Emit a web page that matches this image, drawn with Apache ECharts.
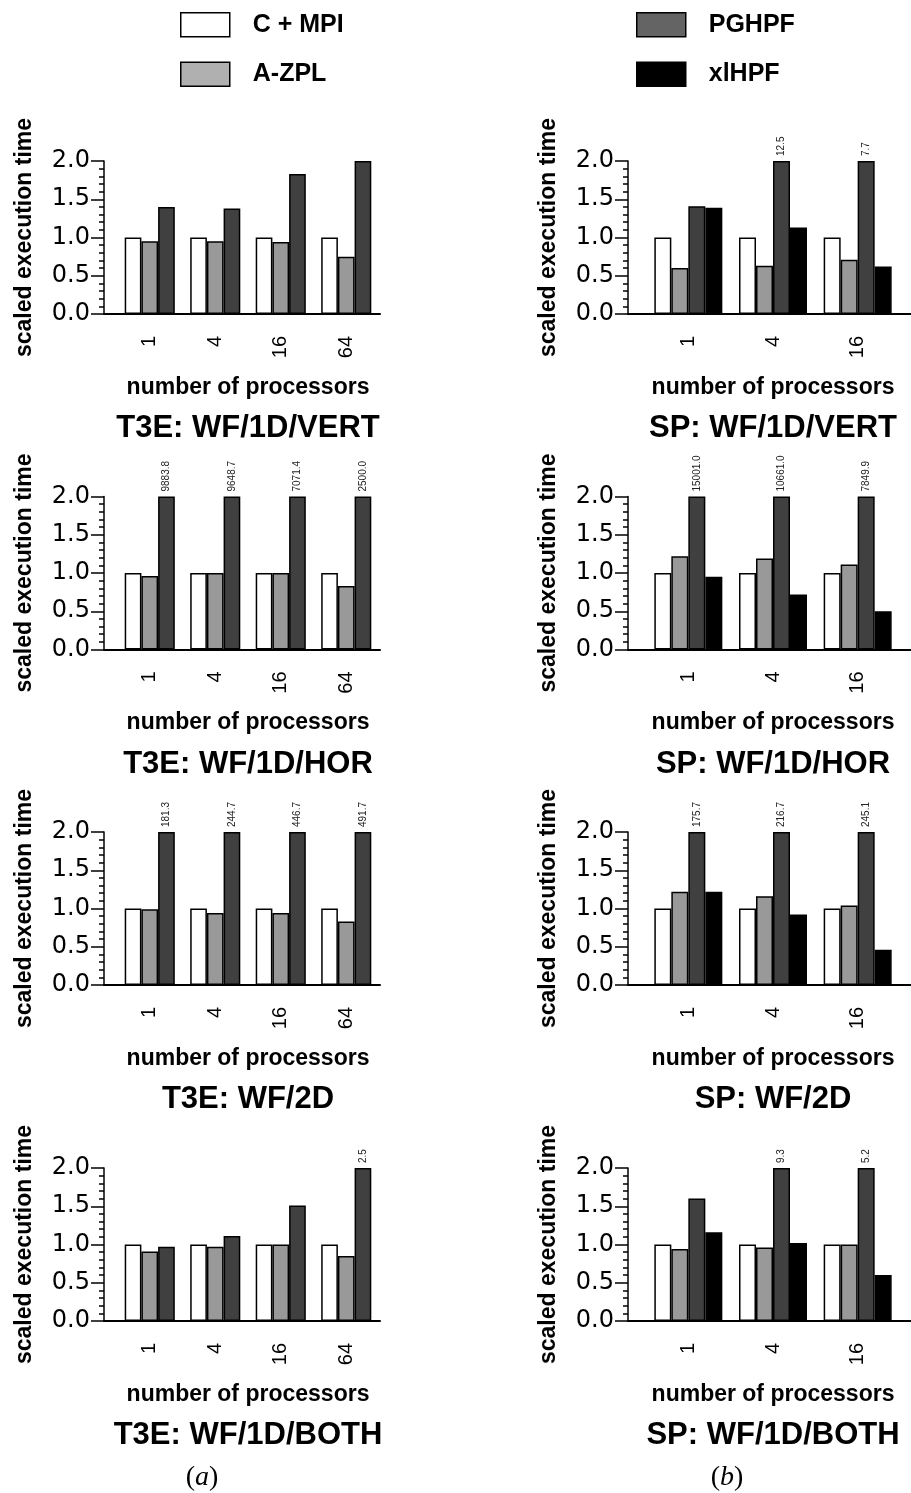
<!DOCTYPE html>
<html><head><meta charset="utf-8">
<script src="https://cdn.jsdelivr.net/npm/echarts@6/dist/echarts.min.js"></script>
<style>html,body{margin:0;padding:0;background:#fff}#c{width:911px;height:1493px}</style>
</head><body><div id="c"></div><script>
// ---------- data ----------
const procT3E = ['1', '4', '16', '64'];
const procSP = ['1', '4', '16'];
const seriesNames = ['C + MPI', 'A-ZPL', 'PGHPF', 'xlHPF'];
const panelTitles = ['T3E: WF/1D/VERT', 'SP: WF/1D/VERT', 'T3E: WF/1D/HOR', 'SP: WF/1D/HOR',
                     'T3E: WF/2D', 'SP: WF/2D', 'T3E: WF/1D/BOTH', 'SP: WF/1D/BOTH'];
const subCaptions = ['a', 'b'];
const yTickValues = [0.0, 0.5, 1.0, 1.5, 2.0];

// T3E: WF/1D/VERT
const t3eVertCmpi  = [1.0, 1.0, 1.0, 1.0];
const t3eVertAzpl  = [0.95, 0.95, 0.94, 0.75];
const t3eVertPghpf = [1.40, 1.38, 1.83, 2.0];
// SP: WF/1D/VERT
const spVertCmpi  = [1.0, 1.0, 1.0];
const spVertAzpl  = [0.60, 0.63, 0.71];
const spVertPghpf = [1.41, 12.5, 7.7];
const spVertXlhpf = [1.39, 1.13, 0.62];
// T3E: WF/1D/HOR
const t3eHorCmpi  = [1.0, 1.0, 1.0, 1.0];
const t3eHorAzpl  = [0.96, 1.0, 1.0, 0.83];
const t3eHorPghpf = [9883.8, 9648.7, 7071.4, 2500.0];
// SP: WF/1D/HOR
const spHorCmpi  = [1.0, 1.0, 1.0];
const spHorAzpl  = [1.22, 1.19, 1.11];
const spHorPghpf = [15001.0, 10661.0, 7849.9];
const spHorXlhpf = [0.95, 0.72, 0.50];
// T3E: WF/2D
const t3e2dCmpi  = [1.0, 1.0, 1.0, 1.0];
const t3e2dAzpl  = [0.99, 0.94, 0.94, 0.83];
const t3e2dPghpf = [181.3, 244.7, 446.7, 491.7];
// SP: WF/2D
const sp2dCmpi  = [1.0, 1.0, 1.0];
const sp2dAzpl  = [1.22, 1.16, 1.04];
const sp2dPghpf = [175.7, 216.7, 245.1];
const sp2dXlhpf = [1.22, 0.92, 0.46];
// T3E: WF/1D/BOTH
const t3eBothCmpi  = [1.0, 1.0, 1.0, 1.0];
const t3eBothAzpl  = [0.91, 0.97, 1.0, 0.85];
const t3eBothPghpf = [0.97, 1.11, 1.51, 2.5];
// SP: WF/1D/BOTH
const spBothCmpi  = [1.0, 1.0, 1.0];
const spBothAzpl  = [0.94, 0.96, 1.0];
const spBothPghpf = [1.60, 9.3, 5.2];
const spBothXlhpf = [1.16, 1.02, 0.60];

// ---------- layout / style ----------
const panels = [
  {cats: procT3E, data: [t3eVertCmpi, t3eVertAzpl, t3eVertPghpf]},
  {cats: procSP,  data: [spVertCmpi, spVertAzpl, spVertPghpf, spVertXlhpf]},
  {cats: procT3E, data: [t3eHorCmpi, t3eHorAzpl, t3eHorPghpf]},
  {cats: procSP,  data: [spHorCmpi, spHorAzpl, spHorPghpf, spHorXlhpf]},
  {cats: procT3E, data: [t3e2dCmpi, t3e2dAzpl, t3e2dPghpf]},
  {cats: procSP,  data: [sp2dCmpi, sp2dAzpl, sp2dPghpf, sp2dXlhpf]},
  {cats: procT3E, data: [t3eBothCmpi, t3eBothAzpl, t3eBothPghpf]},
  {cats: procSP,  data: [spBothCmpi, spBothAzpl, spBothPghpf, spBothXlhpf]}
];
const YMAX = 2.0;
const barColors = ['#ffffff', '#999999', '#404040', '#000000'];
const legendColors = ['#ffffff', '#b0b0b0', '#646464', '#000000'];
const rowTops = [161, 496.5, 832, 1168];
const plotH = 153;
const colFrame = [{left: 104, width: 276}, {left: 628, width: 283}];
const colBars = [{left: 117, width: 262, barW: 16.7}, {left: 646, width: 254, barW: 17}];
const colCenter = [248, 773];
const captionCenter = [202, 727];
const SANS = 'Liberation Sans, Arial, Helvetica, sans-serif';
const SERIF = 'Liberation Serif, DejaVu Serif, serif';

const grid = [], xAxis = [], yAxis = [], series = [], title = [];
panels.forEach((p, i) => {
  const c = i % 2, r = Math.floor(i / 2);
  const top = rowTops[r];
  const gf = 2 * i, gb = 2 * i + 1;
  grid.push({left: colFrame[c].left, width: colFrame[c].width, top: top, height: plotH, containLabel: false, outerBoundsMode: 'none'});
  grid.push({left: colBars[c].left, width: colBars[c].width, top: top, height: plotH, containLabel: false, outerBoundsMode: 'none'});
  // frame axes (baseline + y axis with ticks)
  xAxis.push({gridIndex: gf, type: 'value', min: 0, max: 1,
    axisLine: {show: true, onZero: false, lineStyle: {color: '#000', width: 2}},
    axisTick: {show: false}, axisLabel: {show: false}, splitLine: {show: false}});
  yAxis.push({gridIndex: gf, type: 'value', min: 0, max: YMAX, interval: 0.5,
    axisLine: {show: true, onZero: false, lineStyle: {color: '#000', width: 1.5}},
    axisTick: {show: true, length: 13, lineStyle: {color: '#000', width: 1.5}},
    minorTick: {show: true, splitNumber: 5, length: 5, lineStyle: {color: '#000', width: 1.5}},
    splitLine: {show: false}, minorSplitLine: {show: false},
    axisLabel: {margin: 14, fontFamily: 'DejaVu Sans', fontSize: 24, color: '#000',
      formatter: v => v.toFixed(1)},
    name: 'scaled execution time', nameLocation: 'middle', nameGap: 68,
    nameTextStyle: {fontFamily: SANS, fontWeight: 'bold', fontSize: 23, color: '#000'}});
  // bar axes
  xAxis.push({gridIndex: gb, type: 'category', data: p.cats,
    axisLine: {show: false}, axisTick: {show: false},
    axisLabel: {rotate: 90, margin: 22, interval: 0, fontFamily: SANS, fontSize: 20, color: '#000'},
    name: 'number of processors', nameLocation: 'middle', nameGap: 62,
    nameTextStyle: {fontFamily: SANS, fontWeight: 'bold', fontSize: 23, color: '#000'}});
  yAxis.push({gridIndex: gb, type: 'value', min: 0, max: YMAX, show: false, splitLine: {show: false}});
  p.data.forEach((vals, s) => {
    series.push({
      type: 'bar', name: seriesNames[s], xAxisIndex: gb, yAxisIndex: gb,
      data: vals.map(v => Math.min(v, YMAX)),
      barWidth: colBars[c].barW, barGap: '0%',
      itemStyle: {color: barColors[s], borderColor: '#000', borderWidth: 1.5},
      emphasis: {disabled: true},
      label: {show: true, position: 'top', distance: 5, rotate: 90, align: 'left', verticalAlign: 'middle',
        fontFamily: SANS, fontSize: 10, color: '#222',
        formatter: prm => vals[prm.dataIndex] > YMAX ? vals[prm.dataIndex].toFixed(1) : ''}
    });
  });
  title.push({text: panelTitles[i], left: colCenter[c], top: top + plotH + 99, textAlign: 'center', padding: 0,
    textStyle: {fontFamily: SANS, fontWeight: 'bold', fontSize: 31, color: '#000'}});
});
subCaptions.forEach((s, c) => {
  title.push({text: '{p|(}{i|' + s + '}{p|)}', left: captionCenter[c], top: 1464, textAlign: 'center', padding: 0,
    textStyle: {fontWeight: 'normal', rich: {
      p: {fontFamily: SERIF, fontWeight: 'normal', fontSize: 28, color: '#000'},
      i: {fontFamily: SERIF, fontWeight: 'normal', fontStyle: 'italic', fontSize: 28, color: '#000'}}}});
});

const legendBase = {orient: 'vertical', top: 12, padding: 0, itemWidth: 49, itemHeight: 24, itemGap: 24, icon: 'rect',
  selectedMode: false,
  textStyle: {fontFamily: SANS, fontWeight: 'bold', fontSize: 25, color: '#000', padding: [0, 0, 0, 18]}};
const legend = [
  Object.assign({}, legendBase, {left: 180, data: [0, 1].map(k => ({name: seriesNames[k],
    itemStyle: {color: legendColors[k], borderColor: '#000', borderWidth: 1.5}}))}),
  Object.assign({}, legendBase, {left: 636, data: [2, 3].map(k => ({name: seriesNames[k],
    itemStyle: {color: legendColors[k], borderColor: '#000', borderWidth: 1.5}}))})
];

const chart = echarts.init(document.getElementById('c'), null, {renderer: 'canvas'});
chart.setOption({backgroundColor: '#fff', animation: false, grid, xAxis, yAxis, series, title, legend});
</script></body></html>
